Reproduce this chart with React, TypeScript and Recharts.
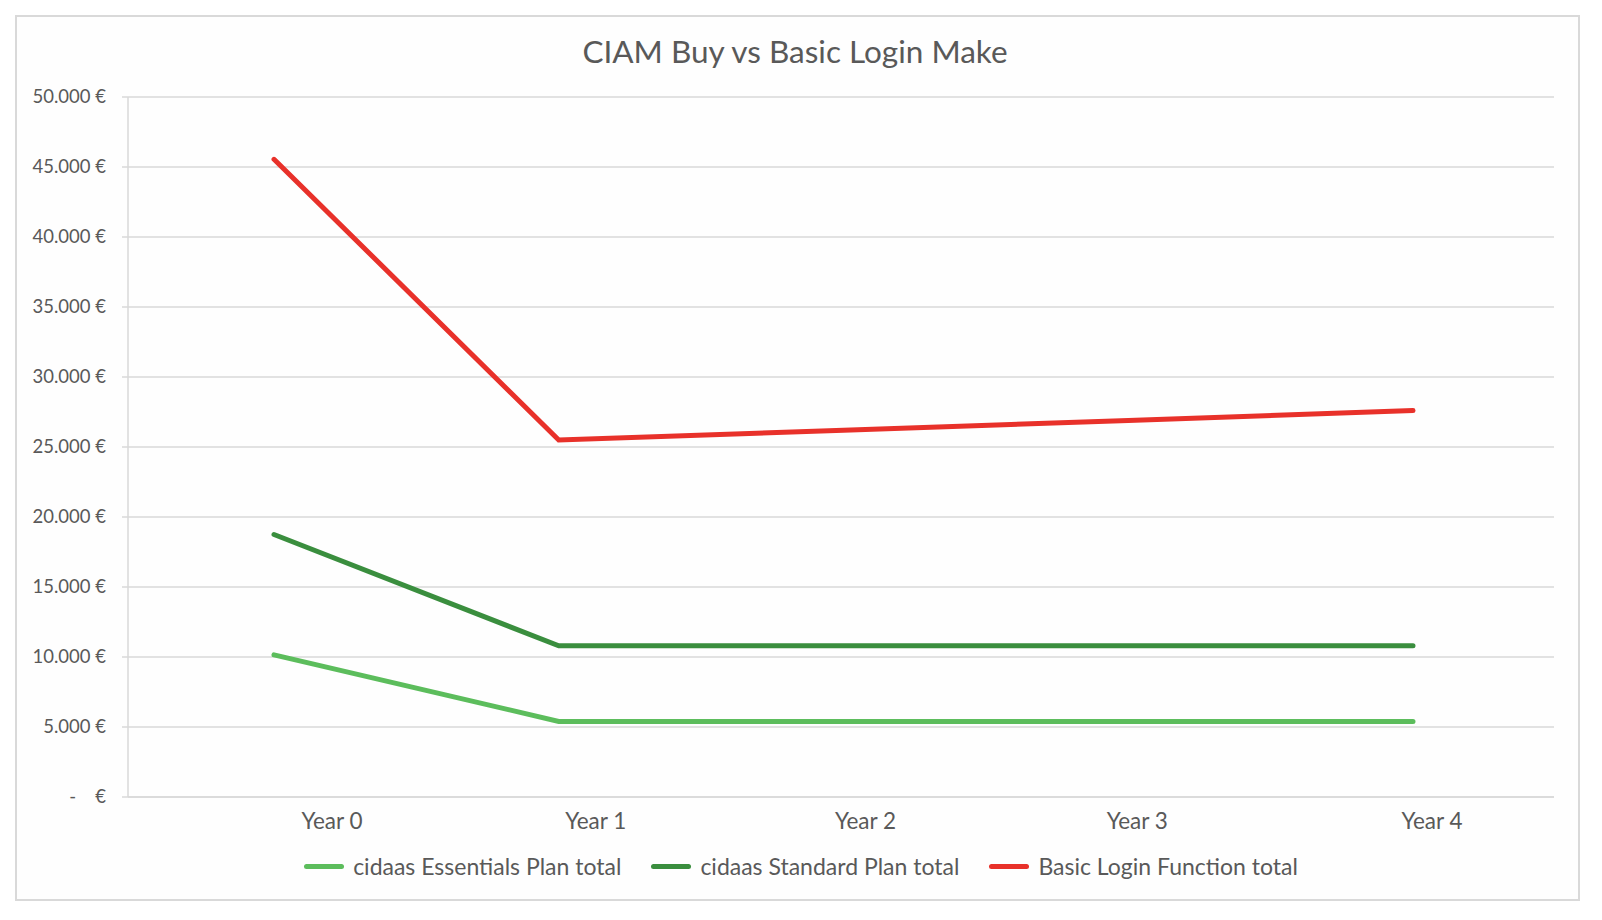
import React from "react";
import { LineChart, Line, XAxis, YAxis, CartesianGrid, Legend } from "recharts";

const years = ["Year 0", "Year 1", "Year 2", "Year 3", "Year 4"];
const essentials = [10150, 5400, 5400, 5400, 5400];
const standard = [18750, 10800, 10800, 10800, 10800];
const basicLogin = [45550, 25500, 26200, 26900, 27600];
const yTicks = [0, 5000, 10000, 15000, 20000, 25000, 30000, 35000, 40000, 45000, 50000];

const seriesNames = ["cidaas Essentials Plan total", "cidaas Standard Plan total", "Basic Login Function total"];
const seriesColors = ["#5cbd5c", "#3a8e3e", "#e8312a"];

const data = years.map((y, i) => ({
  year: y,
  essentials: essentials[i],
  standard: standard[i],
  basicLogin: basicLogin[i],
}));

const FONT = "Lato, 'Open Sans', sans-serif";
const TEXT = "#595959";
const GRID = "#d9d9d9";
const xLabelShift = [58, 37, 22, 9, 19];

const fmt = (v: number) => v.toLocaleString("de-DE") + " €";

const YTick = (props: any) => {
  const { x, y, payload } = props;
  if (payload.value === 0) {
    return (
      <g>
        <text x={x - 30} y={y} dy={6} textAnchor="end" fill={TEXT} fontSize={18.5} fontFamily={FONT}>-</text>
        <text x={x} y={y} dy={6} textAnchor="end" fill={TEXT} fontSize={18.5} fontFamily={FONT}>€</text>
      </g>
    );
  }
  return (
    <text x={x} y={y} dy={6} textAnchor="end" fill={TEXT} fontSize={18.5} fontFamily={FONT}>
      {fmt(payload.value)}
    </text>
  );
};

const XTick = (props: any) => {
  const { x, y, payload, index } = props;
  return (
    <text x={x + (xLabelShift[index] || 0)} y={y} dy={24} textAnchor="middle" fill={TEXT} fontSize={22.5} fontFamily={FONT}>
      {payload.value}
    </text>
  );
};

const LegendContent = () => (
  <div style={{ display: "flex", justifyContent: "center", alignItems: "center", fontFamily: FONT, fontSize: 23, color: TEXT, lineHeight: "28px" }}>
    {seriesNames.map((n, i) => (
      <div key={n} style={{ display: "flex", alignItems: "center", marginLeft: i === 0 ? 0 : 30 }}>
        <div style={{ width: 40, height: 5, borderRadius: 3, background: seriesColors[i], marginRight: 9 }} />
        <span>{n}</span>
      </div>
    ))}
  </div>
);

export default function App() {
  return (
    <div style={{ position: "absolute", left: 0, top: 0, width: 1602, height: 920, background: "#ffffff" }}>
      <div style={{ position: "absolute", left: 15, top: 15, width: 1561, height: 882, border: `2px solid ${GRID}`, background: "#fefefe" }} />
      <div style={{ position: "absolute", left: 0, top: 0 }}>
        <LineChart width={1602} height={920} data={data} margin={{ top: 97, right: 48, left: 0, bottom: 55 }}>
          <text x={795} y={52} dy={11} textAnchor="middle" fill={TEXT} fontSize={31.5} fontFamily={FONT}>
            CIAM Buy vs Basic Login Make
          </text>
          <CartesianGrid vertical={false} stroke={GRID} strokeWidth={1.5} />
          <XAxis
            dataKey="year"
            height={40}
            padding={{ left: 146, right: 141 }}
            axisLine={{ stroke: GRID, strokeWidth: 1.5 }}
            tickLine={false}
            tick={<XTick />}
            interval={0}
          />
          <YAxis
            width={128}
            domain={[0, 50000]}
            ticks={yTicks}
            interval={0}
            axisLine={{ stroke: GRID, strokeWidth: 1.5 }}
            tickLine={{ stroke: GRID, strokeWidth: 1.5 }}
            tickSize={6}
            tickMargin={16}
            tick={<YTick />}
          />
          <Legend verticalAlign="bottom" content={<LegendContent />} wrapperStyle={{ top: 852, left: 0, width: 1602 }} />
          <Line type="linear" dataKey="essentials" name={seriesNames[0]} stroke={seriesColors[0]} strokeWidth={5} dot={false} strokeLinecap="round" isAnimationActive={false} />
          <Line type="linear" dataKey="standard" name={seriesNames[1]} stroke={seriesColors[1]} strokeWidth={5} dot={false} strokeLinecap="round" isAnimationActive={false} />
          <Line type="linear" dataKey="basicLogin" name={seriesNames[2]} stroke={seriesColors[2]} strokeWidth={5} dot={false} strokeLinecap="round" isAnimationActive={false} />
        </LineChart>
      </div>
    </div>
  );
}
